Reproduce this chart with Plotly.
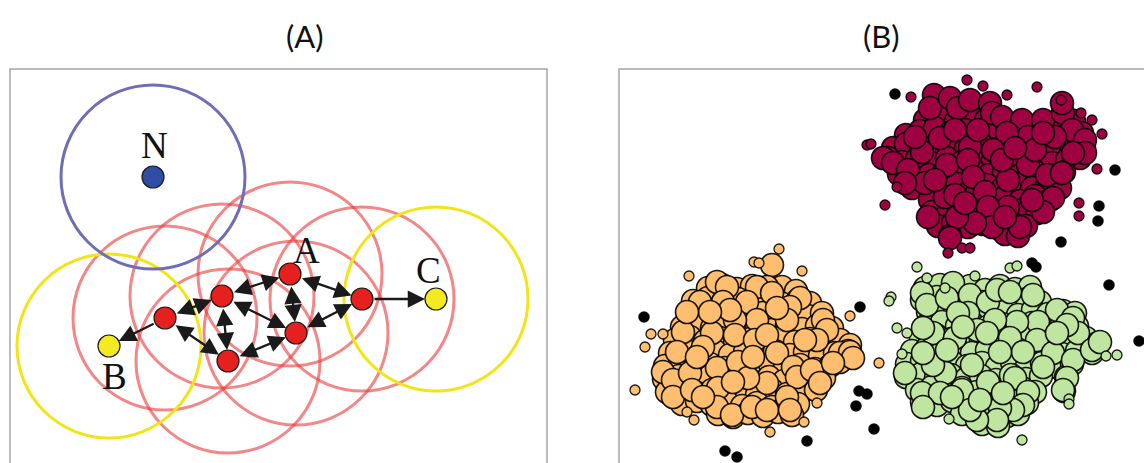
import plotly.graph_objects as go

W, H = 1144, 463

# ---------------- (A) density-reachability sketch ----------------
eps = 92
core_x = [165, 222, 290, 362, 296, 228]
core_y = [318, 296, 274, 299, 333, 361]
border_x = [109, 436]          # B, C
border_y = [346, 299]
noise_x = [153]                # N
noise_y = [177]
# mutual reachability between core points (indices into core_*)
links = [(0, 1), (1, 2), (2, 3), (2, 4), (1, 4), (1, 5), (0, 5), (5, 4), (4, 3)]
# one-way reachability: core index -> border index
reach = [(0, 0), (3, 1)]
letters = ["N", "A", "B", "C"]
letter_x = [154, 306, 114, 428]
letter_y = [145, 250, 376, 270]

# ---------------- (B) clustered sample ----------------
# interior core samples (mostly hidden beneath the outer ones)
maroon_inner = [(925, 120), (940, 117), (956, 121), (971, 116), (986, 120), (1001, 124), (1016, 128),
                (1031, 127), (1047, 126), (1060, 124), (1074, 121),
                (906, 135), (920, 131), (935, 128), (950, 133), (965, 130), (980, 136), (995, 133),
                (1010, 130), (1025, 134), (1040, 131), (1055, 128), (1069, 134), (1082, 133),
                (893, 148), (906, 144), (921, 147), (936, 150), (951, 145), (966, 148), (981, 144),
                (996, 149), (1011, 146), (1026, 150), (1041, 145), (1056, 149), (1071, 145), (1084, 147),
                (888, 158), (902, 162), (917, 159), (932, 163), (947, 158), (962, 162), (977, 159),
                (992, 163), (1007, 158), (1022, 162), (1037, 159), (1052, 163), (1067, 160), (1080, 158),
                (899, 174), (914, 171), (929, 175), (944, 172), (959, 176), (974, 171), (989, 175),
                (1004, 172), (1019, 176), (1034, 171), (1049, 175), (1064, 172),
                (912, 188), (927, 185), (942, 189), (957, 184), (972, 188), (987, 185), (1002, 189),
                (1017, 184), (1032, 188), (1047, 185), (1060, 188),
                (930, 200), (945, 197), (960, 201), (975, 196), (990, 200), (1005, 197), (1020, 201),
                (1035, 196), (1050, 200),
                (932, 212), (947, 215), (962, 210), (977, 214), (992, 211), (1007, 215), (1022, 210),
                (1037, 213),
                (938, 226), (953, 223), (968, 227), (983, 224), (998, 228), (1013, 224), (1026, 226),
                (950, 236), (1005, 234), (1018, 236)]
maroon_core = [(934, 95), (930, 108), (950, 98), (958, 108), (970, 100), (990, 103), (992, 113),
               (1002, 117), (1022, 120), (1043, 120), (1063, 113), (1062, 103), (1072, 130),
               (1085, 140), (1085, 153), (1073, 153), (1055, 137), (1028, 137), (1007, 133),
               (993, 150), (970, 147), (940, 138), (922, 152), (883, 158), (893, 163), (908, 170),
               (925, 183), (905, 183), (947, 165), (968, 160), (973, 177), (985, 192), (1008, 180),
               (1028, 165), (1047, 175), (1062, 173), (1053, 198), (1043, 212), (1020, 227),
               (1008, 207), (988, 207), (992, 227), (975, 223), (957, 217), (928, 217), (950, 238),
               (945, 197), (935, 180), (955, 195), (1002, 160), (1035, 150), (1015, 148),
               (1043, 133), (955, 130), (915, 137), (978, 130), (1005, 217), (1032, 200), (965, 203)]
maroon_edge = [(967, 80), (983, 86), (911, 97), (1007, 95), (1037, 87), (1061, 100), (1081, 113),
               (1092, 120), (1102, 134), (1097, 169), (867, 145), (871, 144), (897, 187), (885, 205),
               (1079, 203), (1079, 216), (948, 253), (962, 248), (970, 248)]

orange_inner = [(708, 288), (722, 285), (737, 289), (752, 286), (767, 290), (782, 287), (796, 291),
                (693, 301), (708, 298), (723, 302), (738, 299), (753, 303), (768, 300), (783, 304),
                (798, 300), (810, 303),
                (688, 314), (703, 311), (718, 315), (733, 312), (748, 316), (763, 313), (778, 317),
                (793, 312), (808, 316), (822, 313),
                (682, 327), (697, 324), (712, 328), (727, 325), (742, 329), (757, 326), (772, 330),
                (787, 325), (802, 329), (817, 326), (832, 328),
                (675, 340), (690, 337), (705, 341), (720, 338), (735, 342), (750, 339), (765, 343),
                (780, 338), (795, 342), (810, 339), (825, 343), (840, 340), (850, 345),
                (670, 353), (685, 350), (700, 354), (715, 351), (730, 355), (745, 352), (760, 356),
                (775, 351), (790, 355), (805, 352), (820, 356), (835, 353), (848, 351),
                (665, 366), (680, 363), (695, 367), (710, 364), (725, 368), (740, 365), (755, 369),
                (770, 364), (785, 368), (800, 365), (815, 369), (830, 366), (840, 362),
                (664, 379), (679, 376), (694, 380), (709, 377), (724, 381), (739, 378), (754, 382),
                (769, 377), (784, 381), (799, 378), (814, 382), (824, 378),
                (667, 392), (682, 389), (697, 393), (712, 390), (727, 394), (742, 391), (757, 395),
                (772, 390), (787, 394), (802, 391), (816, 390),
                (682, 404), (697, 401), (712, 405), (727, 402), (742, 406), (757, 403), (772, 407),
                (787, 402), (798, 404),
                (718, 414), (733, 417), (748, 413), (763, 416), (778, 412), (792, 415)]
orange_core = [(772, 265), (767, 287), (757, 287), (717, 282), (727, 287), (700, 302), (723, 302),
               (747, 302), (772, 293), (800, 298), (790, 307), (823, 320), (827, 330), (817, 340),
               (787, 320), (757, 320), (735, 320), (712, 333), (683, 332), (677, 352), (663, 372),
               (673, 380), (673, 397), (690, 373), (692, 390), (717, 368), (718, 388), (717, 407),
               (732, 415), (738, 362), (735, 335), (755, 340), (767, 335), (777, 353), (793, 367),
               (797, 377), (767, 383), (748, 378), (752, 407), (767, 410), (787, 397), (790, 410),
               (812, 370), (820, 383), (840, 353), (850, 352), (853, 358), (833, 363), (805, 340),
               (703, 347), (697, 357), (730, 310), (777, 308), (710, 312), (753, 357), (733, 382),
               (703, 397), (687, 312)]
orange_edge = [(779, 249), (754, 262), (759, 263), (689, 276), (802, 271), (850, 316), (651, 334),
               (663, 334), (645, 347), (635, 390), (687, 412), (694, 420), (804, 422), (817, 403),
               (770, 432), (879, 363)]

green_inner = [(925, 288), (940, 285), (955, 289), (970, 286), (985, 290), (1000, 286), (1015, 289),
               (1030, 287),
               (922, 300), (937, 297), (952, 301), (967, 298), (982, 302), (997, 299), (1012, 303),
               (1027, 299), (1040, 302),
               (928, 312), (943, 309), (958, 313), (973, 310), (988, 314), (1003, 311), (1018, 315),
               (1033, 310), (1048, 314), (1063, 311), (1075, 313),
               (927, 325), (942, 322), (957, 326), (972, 323), (987, 327), (1002, 324), (1017, 328),
               (1032, 323), (1047, 327), (1062, 324), (1077, 326),
               (921, 338), (936, 335), (951, 339), (966, 336), (981, 340), (996, 337), (1011, 341),
               (1026, 336), (1041, 340), (1056, 337), (1071, 341), (1086, 338), (1098, 343),
               (912, 351), (927, 348), (942, 352), (957, 349), (972, 353), (987, 350), (1002, 354),
               (1017, 349), (1032, 353), (1047, 350), (1062, 354), (1077, 351), (1092, 353),
               (907, 364), (922, 361), (937, 365), (952, 362), (967, 366), (982, 363), (997, 367),
               (1012, 362), (1027, 366), (1042, 363), (1057, 367), (1072, 364),
               (906, 377), (921, 374), (936, 378), (951, 375), (966, 379), (981, 376), (996, 380),
               (1011, 375), (1026, 379), (1041, 376), (1066, 377),
               (917, 390), (932, 387), (947, 391), (962, 388), (977, 392), (992, 389), (1007, 393),
               (1022, 388), (1035, 392), (1064, 391),
               (922, 402), (937, 405), (952, 401), (967, 404), (982, 400), (997, 404), (1012, 401),
               (1027, 403),
               (962, 414), (977, 417), (992, 413), (1007, 416), (1018, 414),
               (982, 424), (998, 426)]
green_core = [(953, 283), (922, 293), (927, 305), (947, 298), (970, 295), (988, 302), (997, 290),
              (1010, 292), (1033, 295), (1057, 310), (1073, 318), (1078, 333), (1067, 325),
              (1038, 322), (1017, 322), (995, 320), (968, 313), (958, 313), (933, 333), (923, 328),
              (955, 338), (977, 330), (1010, 338), (1037, 340), (1053, 353), (1073, 360),
              (1092, 350), (1100, 342), (1067, 378), (1063, 390), (1043, 367), (1023, 352),
              (1000, 352), (972, 365), (945, 373), (933, 365), (905, 373), (922, 393), (940, 393),
              (962, 390), (988, 382), (1015, 378), (1028, 392), (1023, 405), (1013, 410),
              (1000, 408), (997, 420), (977, 420), (970, 410), (952, 397), (923, 407), (947, 350),
              (987, 333), (963, 327), (923, 353), (1057, 333), (1003, 393), (980, 400)]
green_edge = [(917, 267), (927, 278), (891, 297), (889, 301), (975, 276), (1010, 268), (1017, 266),
              (897, 328), (907, 333), (902, 354), (945, 288), (1106, 356), (1117, 355), (1069, 399),
              (1069, 404), (949, 419), (1022, 440)]

noise = [(895, 94), (1099, 206), (1098, 221), (1061, 242), (1115, 170), (1032, 263), (1036, 267),
         (1109, 285), (1139, 341), (860, 307), (644, 317), (859, 391), (867, 394), (856, 406),
         (874, 429), (807, 441), (725, 451), (737, 457)]

cluster_colors = ["#9e0142", "#fdbe6f", "#bfe5a0"]

fig = go.Figure()

# ---- panel A ----
def circle_shapes(xs, ys, color):
    return [dict(type="circle", xref="x", yref="y", x0=x - eps, x1=x + eps, y0=y - eps, y1=y + eps,
                 line=dict(color=color, width=3), layer="below") for x, y in zip(xs, ys)]

shapes = []
shapes += circle_shapes(core_x, core_y, "rgba(236,60,60,0.62)")
shapes += circle_shapes(border_x, border_y, "#f3e417")
shapes += circle_shapes(noise_x, noise_y, "#6f6db8")

dot_line = dict(color="#1a1a1a", width=1.2)
fig.add_trace(go.Scatter(x=core_x, y=core_y, mode="markers", xaxis="x", yaxis="y",
                         marker=dict(size=22, color="#e5201f", line=dot_line), hoverinfo="skip"))
fig.add_trace(go.Scatter(x=border_x, y=border_y, mode="markers", xaxis="x", yaxis="y",
                         marker=dict(size=22, color="#f4ea22", line=dot_line), hoverinfo="skip"))
fig.add_trace(go.Scatter(x=noise_x, y=noise_y, mode="markers", xaxis="x", yaxis="y",
                         marker=dict(size=22, color="#2f4ea3", line=dot_line), hoverinfo="skip"))

annotations = []
arrow_style = dict(xref="x", yref="y", axref="x", ayref="y", text="", showarrow=True,
                   arrowhead=2, startarrowhead=2, arrowsize=1.5, startarrowsize=1.5,
                   arrowwidth=2.3, arrowcolor="#1a1a1a", standoff=11, startstandoff=11)
for i, j in links:
    annotations.append(dict(x=core_x[j], y=core_y[j], ax=core_x[i], ay=core_y[i],
                            arrowside="end+start", **arrow_style))
for i, b in reach:
    annotations.append(dict(x=border_x[b], y=border_y[b], ax=core_x[i], ay=core_y[i],
                            arrowside="end", **arrow_style))
for t, x, y in zip(letters, letter_x, letter_y):
    annotations.append(dict(x=x, y=y, xref="x", yref="y", text=t, showarrow=False,
                            font=dict(family="Liberation Serif", size=37, color="#111"),
                            xanchor="center", yanchor="middle"))

# ---- panel B ----
def add_points(pts, size, color, lw=1.6):
    fig.add_trace(go.Scatter(x=[p[0] for p in pts], y=[p[1] for p in pts], mode="markers",
                             xaxis="x2", yaxis="y2", hoverinfo="skip",
                             marker=dict(size=size, color=color,
                                         line=dict(color="rgba(0,0,0,0.9)", width=lw))))

for inner, core, edge, col in [(maroon_inner, maroon_core, maroon_edge, cluster_colors[0]),
                               (orange_inner, orange_core, orange_edge, cluster_colors[1]),
                               (green_inner, green_core, green_edge, cluster_colors[2])]:
    add_points(inner + core, 23, col)
    add_points(edge, 10, col, lw=1.3)
add_points(noise, 10, "#000000")

# ---- frames and titles ----
frame_line = dict(color="#a6a6a6", width=1.5)
shapes.append(dict(type="rect", xref="paper", yref="paper", x0=10 / W, x1=547 / W,
                   y0=-0.05, y1=(H - 69) / H, line=frame_line, layer="above"))
shapes.append(dict(type="rect", xref="paper", yref="paper", x0=619 / W, x1=1.05,
                   y0=-0.05, y1=(H - 69) / H, line=frame_line, layer="above"))
for t, cx in [("(A)", 305), ("(B)", 881)]:
    annotations.append(dict(x=cx / W, y=(H - 36) / H, xref="paper", yref="paper", text=t,
                            showarrow=False, xanchor="center", yanchor="middle",
                            font=dict(family="Lato", size=31, color="#111")))

axis_off = dict(visible=False, showgrid=False, zeroline=False)
fig.update_layout(
    width=W, height=H, margin=dict(l=0, r=0, t=0, b=0),
    paper_bgcolor="white", plot_bgcolor="white", showlegend=False,
    xaxis=dict(domain=[10 / W, 547 / W], range=[10, 547], **axis_off),
    yaxis=dict(domain=[0, (H - 69) / H], range=[H, 69], **axis_off),
    xaxis2=dict(domain=[619 / W, 1], range=[619, W], **axis_off),
    yaxis2=dict(domain=[0, (H - 69) / H], range=[H, 69], **axis_off),
    shapes=shapes, annotations=annotations,
)

fig.write_html("out.html")
